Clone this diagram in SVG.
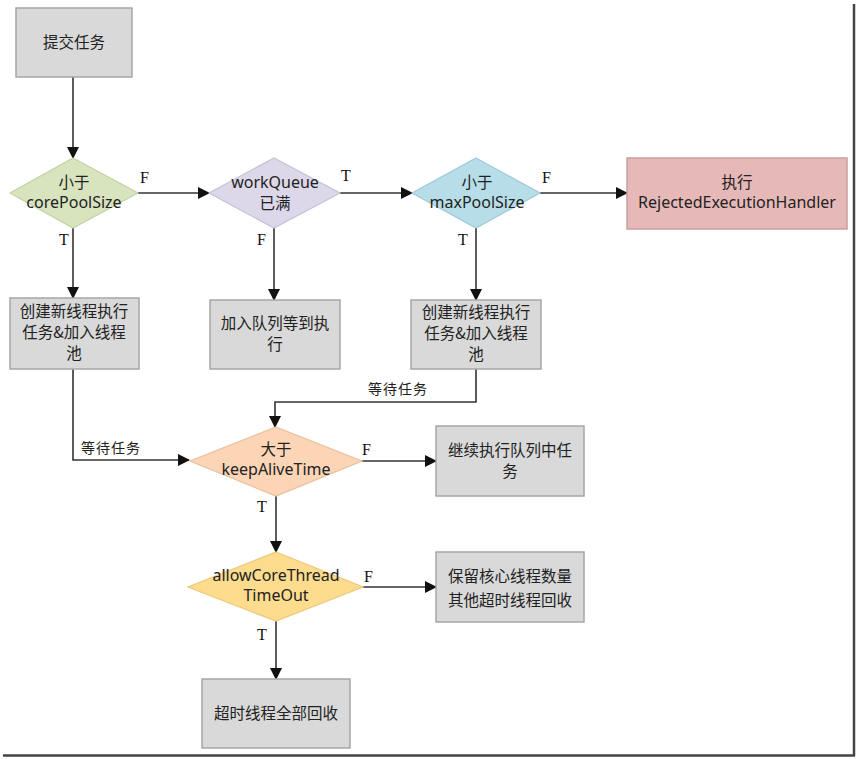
<svg xmlns="http://www.w3.org/2000/svg" width="858" height="759" viewBox="0 0 858 759">
<defs>
<marker id="ah" markerWidth="12" markerHeight="12" refX="11" refY="6" orient="auto" markerUnits="userSpaceOnUse">
<path d="M0,0 L12,6 L0,12 Z" fill="#111"/>
</marker>
</defs>
<style>
.box{fill:#d9d9d9;stroke:#a6a6a6;stroke-width:1.5}
.t{font-family:"Microsoft YaHei","Noto Sans CJK SC","Noto Sans",sans-serif;font-size:15.5px;fill:#222;text-anchor:middle}
.lt{font-family:"Microsoft YaHei","Noto Sans","Noto Sans CJK SC",sans-serif;font-size:16px;fill:#222;text-anchor:middle}
.lb{font-family:"Liberation Serif","DejaVu Serif",serif;font-size:16px;fill:#111}
.c{fill:none;stroke:#333;stroke-width:1.6;marker-end:url(#ah)}
.cl{font-family:"Microsoft YaHei","Noto Sans CJK SC",sans-serif;font-size:14px;fill:#222;letter-spacing:1px}
</style>
<rect width="858" height="759" fill="#fff"/>
<g id="frame">
<line x1="854" y1="4" x2="854" y2="756" stroke="#444" stroke-width="2.5"/>
<line x1="3" y1="755.5" x2="855" y2="755.5" stroke="#444" stroke-width="2.5"/>
</g>
<g id="connectors">
<line class="c" x1="73" y1="77" x2="73" y2="158"/>
<line class="c" x1="138" y1="193" x2="209" y2="193"/>
<line class="c" x1="340" y1="193" x2="412" y2="193"/>
<line class="c" x1="540" y1="193" x2="627" y2="193"/>
<line class="c" x1="73" y1="228" x2="73" y2="298"/>
<line class="c" x1="274" y1="228" x2="274" y2="300"/>
<line class="c" x1="476" y1="228" x2="476" y2="300"/>
<polyline class="c" points="73,369 73,460 189,460"/>
<polyline class="c" points="476,369 476,402 275,402 275,427"/>
<line class="c" x1="362" y1="461" x2="436" y2="461"/>
<line class="c" x1="276" y1="496" x2="276" y2="552"/>
<line class="c" x1="363" y1="587" x2="436" y2="587"/>
<line class="c" x1="276" y1="621" x2="276" y2="679"/>
<text class="lb" x="140" y="183">F</text>
<text class="lb" x="341" y="181">T</text>
<text class="lb" x="542" y="183">F</text>
<text class="lb" x="59" y="245">T</text>
<text class="lb" x="257" y="245">F</text>
<text class="lb" x="458" y="245">T</text>
<text class="lb" x="362" y="455">F</text>
<text class="lb" x="257" y="512">T</text>
<text class="lb" x="364" y="582">F</text>
<text class="lb" x="257" y="640">T</text>
<text class="cl" x="81" y="453">等待任务</text>
<text class="cl" x="368" y="394">等待任务</text>
</g>
<g id="submit">
<rect class="box" x="16" y="8" width="116" height="69"/>
<text class="t" x="74" y="48">提交任务</text>
</g>
<g id="d-core">
<polygon points="73,158 138,193 73,228 10,193" fill="#d7e4bd" stroke="#c3d1a8" stroke-width="1.2"/>
<text class="t" x="74" y="188">小于</text>
<text class="lt" x="74" y="208">corePoolSize</text>
</g>
<g id="d-queue">
<polygon points="274,158 340,193 274,228 209,193" fill="#ddd8e9" stroke="#c6c0d6" stroke-width="1.2"/>
<text class="lt" x="275" y="188">workQueue</text>
<text class="t" x="275" y="209">已满</text>
</g>
<g id="d-max">
<polygon points="476,158 540,193 476,228 412,193" fill="#b7dee8" stroke="#9ccad6" stroke-width="1.2"/>
<text class="t" x="477" y="188">小于</text>
<text class="lt" x="477" y="208">maxPoolSize</text>
</g>
<g id="reject">
<rect x="627" y="158" width="220" height="71" fill="#e6b9b8" stroke="#c9a09f" stroke-width="1.5"/>
<text class="t" x="737" y="188">执行</text>
<text class="lt" x="737" y="208">RejectedExecutionHandler</text>
</g>
<g id="create1">
<rect class="box" x="10" y="298" width="129" height="71"/>
<text class="t" x="74" y="317">创建新线程执行</text>
<text class="t" x="74" y="338">任务&amp;加入线程</text>
<text class="t" x="74" y="359">池</text>
</g>
<g id="enqueue">
<rect class="box" x="210" y="300" width="130" height="69"/>
<text class="t" x="275" y="329">加入队列等到执</text>
<text class="t" x="275" y="350">行</text>
</g>
<g id="create2">
<rect class="box" x="411" y="300" width="130" height="69"/>
<text class="t" x="476" y="318">创建新线程执行</text>
<text class="t" x="476" y="339">任务&amp;加入线程</text>
<text class="t" x="476" y="360">池</text>
</g>
<g id="d-alive">
<polygon points="276,427 362,461 276,496 190,461" fill="#fbd5b5" stroke="#e8bf9c" stroke-width="1.2"/>
<text class="t" x="276" y="455">大于</text>
<text class="lt" x="276" y="475">keepAliveTime</text>
</g>
<g id="continue">
<rect class="box" x="436" y="426" width="148" height="70"/>
<text class="t" x="510" y="456">继续执行队列中任</text>
<text class="t" x="510" y="477">务</text>
</g>
<g id="d-allow">
<polygon points="276,552 363,587 276,621 188,587" fill="#fedc8e" stroke="#ebc87a" stroke-width="1.2"/>
<text class="lt" x="276" y="581">allowCoreThread</text>
<text class="lt" x="276" y="601">TimeOut</text>
</g>
<g id="keep">
<rect class="box" x="436" y="552" width="148" height="70"/>
<text class="t" x="510" y="582">保留核心线程数量</text>
<text class="t" x="510" y="606">其他超时线程回收</text>
</g>
<g id="recycle">
<rect class="box" x="202" y="679" width="148" height="69"/>
<text class="t" x="276" y="719">超时线程全部回收</text>
</g>
</svg>
